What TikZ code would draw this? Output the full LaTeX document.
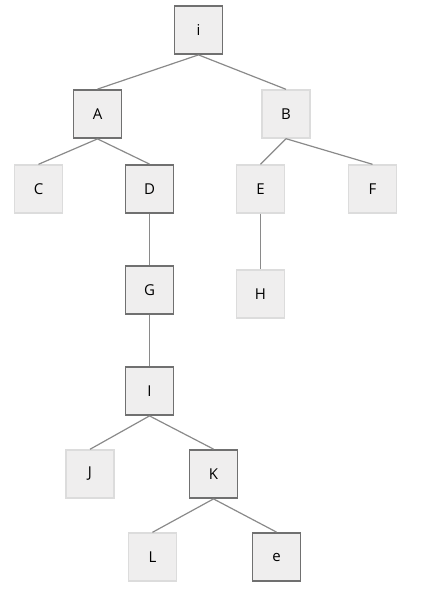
\documentclass[tikz,border=0pt]{standalone}
\usepackage{fontspec}
\setmainfont{Open Sans}
\definecolor{boxfill}{HTML}{EFEEEE}
\definecolor{darkedge}{HTML}{707070}
\definecolor{lightedge}{HTML}{DCDCDC}
\definecolor{linkgray}{HTML}{8A8A8A}
\tikzset{
    mark box/.style={draw=darkedge, line width=1.8pt, fill=boxfill, minimum size=48pt, inner sep=0pt, font=\fontsize{15}{17}\selectfont},
    plain box/.style={draw=lightedge, line width=1.4pt, fill=boxfill, minimum size=48pt, inner sep=0pt, font=\fontsize{15}{17}\selectfont},
    link/.style={draw=linkgray, line width=1.2pt}
}
\begin{document}
\begin{tikzpicture}[x=1pt,y=-1pt]
    \useasboundingbox (0,0) rectangle (424,589);
    \node[mark box]  (ni) at (198.5,30)  {i};
    \node[mark box]  (nA) at (97.5,114)  {A};
    \node[plain box] (nB) at (286,114)   {B};
    \node[plain box] (nC) at (38.5,189)  {C};
    \node[mark box]  (nD) at (149.5,189) {D};
    \node[plain box] (nE) at (260.5,189) {E};
    \node[plain box] (nF) at (372.5,189) {F};
    \node[mark box]  (nG) at (149.5,290) {G};
    \node[plain box] (nH) at (260.5,294) {H};
    \node[mark box]  (nI) at (149.5,391) {I};
    \node[plain box] (nJ) at (90,474)    {J};
    \node[mark box]  (nK) at (213.5,474) {K};
    \node[plain box] (nL) at (152.5,557) {L};
    \node[mark box]  (ne) at (276.5,557) {e};

    \foreach \p/\c in {ni/nA,ni/nB,nA/nC,nA/nD,nB/nE,nB/nF,nD/nG,nE/nH,nG/nI,nI/nJ,nI/nK,nK/nL,nK/ne}
        {\draw[link] (\p.south) -- (\c.north);}
\end{tikzpicture}
\end{document}
